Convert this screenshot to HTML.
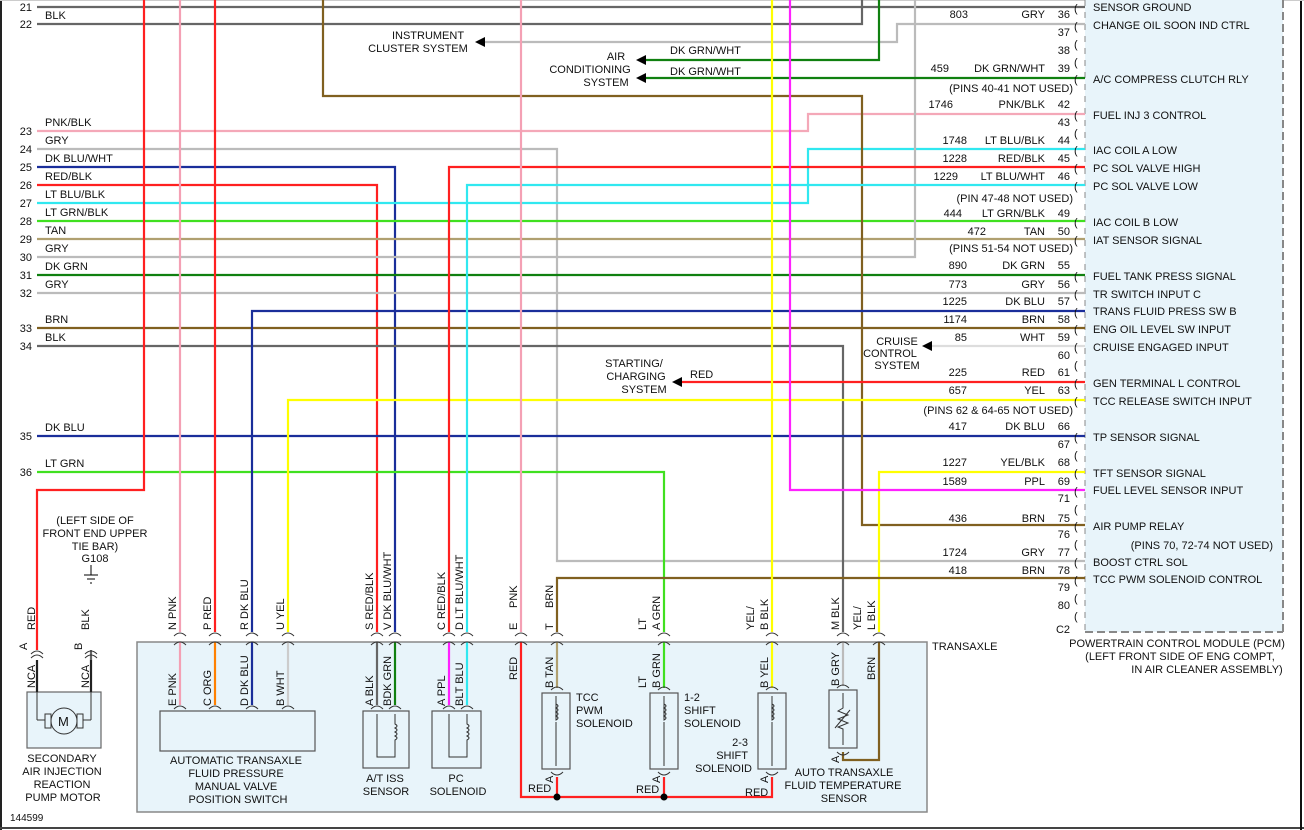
<!DOCTYPE html>
<html><head><meta charset="utf-8"><style>
html,body{margin:0;padding:0;background:#fff}
svg{display:block}
text{font-family:"Liberation Sans",sans-serif;font-size:11px;fill:#111}
</style></head><body>
<svg width="1304" height="830" viewBox="0 0 1304 830" xmlns="http://www.w3.org/2000/svg">
<rect x="0" y="0" width="1304" height="830" fill="#fff"/>
<line x1="1" y1="0" x2="1" y2="830" stroke="#222" stroke-width="2"/>
<line x1="0" y1="828" x2="1304" y2="828" stroke="#444" stroke-width="2"/>
<line x1="1301" y1="0" x2="1301" y2="830" stroke="#111" stroke-width="2"/>
<line x1="0" y1="0.5" x2="1304" y2="0.5" stroke="#ccc" stroke-width="1"/>
<!-- PCM box -->
<rect x="1085" y="0" width="198" height="632" fill="#e8f4fa"/>
<line x1="1283" y1="0" x2="1283" y2="632" stroke="#888" stroke-width="2" stroke-dasharray="8,4"/>
<line x1="1085" y1="632" x2="1283" y2="632" stroke="#888" stroke-width="2" stroke-dasharray="8,4"/>
<line x1="1085" y1="0" x2="1085" y2="632" stroke="#888" stroke-width="1" stroke-dasharray="6,6"/>
<!-- Transaxle box -->
<rect x="137" y="642" width="790" height="170" fill="#e8f4fa" stroke="#888" stroke-width="1.5"/>
<rect x="27" y="692" width="74" height="56" fill="#e8f4fa" stroke="#666" stroke-width="1.2"/>
<g fill="none" stroke-width="2.2">
<!-- horizontal left rows -->
<path d="M37 7H1085" stroke="#666"/>
<path d="M37 24H862V0" stroke="#666"/>
<path d="M37 131H808V114H1085" stroke="#f4a8b8"/>
<path d="M37 149H557V561H1085" stroke="#bbb"/>
<path d="M37 167H395V632" stroke="#1a2e9a"/>
<path d="M37 185H377V632" stroke="#ff2020"/>
<path d="M37 203H808V149H1085" stroke="#30e8f0"/>
<path d="M37 221H1085" stroke="#40e020"/>
<path d="M37 239H1085" stroke="#b0a070"/>
<path d="M37 257H915V0" stroke="#bbb"/>
<path d="M37 275H1085" stroke="#108010"/>
<path d="M37 293H1085" stroke="#bbb"/>
<path d="M37 328H1085" stroke="#806020"/>
<path d="M37 346H843V632" stroke="#666"/>
<path d="M37 436H1085" stroke="#1a2e9a"/>
<path d="M37 472H664V632" stroke="#40e020"/>
<!-- others -->
<path d="M478 42H897V24H1085" stroke="#bbb"/>
<path d="M640 60H879V0" stroke="#108010"/>
<path d="M640 78H1085" stroke="#108010"/>
<path d="M323 0V96H862V525H1085" stroke="#806020"/>
<path d="M252 632V311H1085" stroke="#1a2e9a"/>
<path d="M288 632V400H1085" stroke="#ffff00"/>
<path d="M449 632V167H1085" stroke="#ff2020"/>
<path d="M467 632V185H1085" stroke="#30e8f0"/>
<path d="M925 346H1085" stroke="#ddd"/>
<path d="M680 382H1085" stroke="#ff2020"/>
<path d="M879 632V472H1085" stroke="#ffff00"/>
<path d="M790 0V490H1085" stroke="#ff20ff"/>
<path d="M557 632V578H1085" stroke="#806020"/>
<path d="M144 0V490H37V650" stroke="#ff2020"/>
<path d="M180 0V632" stroke="#f4a0b4"/>
<path d="M215 0V632" stroke="#ff2020"/>
<path d="M521 0V632" stroke="#f4a0b4"/>
<path d="M772 0V632" stroke="#ffff00"/>
<path d="M91 660V650" stroke="#666"/>
<!-- inside transaxle -->
<path d="M180 642V705" stroke="#f4a0b4"/>
<path d="M215 642V705" stroke="#ff8000"/>
<path d="M252 642V705" stroke="#1a2e9a"/>
<path d="M288 642V705" stroke="#ccc"/>
<path d="M377 642V705" stroke="#666"/>
<path d="M395 642V705" stroke="#108010"/>
<path d="M449 642V705" stroke="#ff20ff"/>
<path d="M467 642V705" stroke="#30e8f0"/>
<path d="M557 642V688" stroke="#b0a070"/>
<path d="M664 642V688" stroke="#40e020"/>
<path d="M772 642V688" stroke="#ffff00"/>
<path d="M843 642V686" stroke="#bbb"/>
<path d="M879 642V760H843V752" stroke="#806020"/>
<path d="M521 642V797H772V777" stroke="#ff2020"/>
<path d="M557 777V797M664 777V797" stroke="#ff2020"/>
<path d="M37 660V692M91 660V692" stroke="#222"/>
</g>
<circle cx="557" cy="797" r="3.5" fill="#000"/>
<circle cx="664" cy="797" r="3.5" fill="#000"/>
<!-- arrows -->
<g fill="#000">
<path d="M475 42l10-5v10z"/><path d="M636 60l10-5v10z"/><path d="M636 78l10-5v10z"/>
<path d="M922 346l10-5v10z"/><path d="M672 382l10-5v10z"/>
</g>
<!-- connector glyphs -->
<g fill="none" stroke="#333" stroke-width="1">
<path d="M31 654q6-6 12 0M85 654q6-6 12 0M31 658q6-6 12 0M85 658q6-6 12 0"/>
<path d="M174 636q6-6 12 0M209 636q6-6 12 0M246 636q6-6 12 0M282 636q6-6 12 0M371 636q6-6 12 0M389 636q6-6 12 0M443 636q6-6 12 0M461 636q6-6 12 0M515 636q6-6 12 0M551 636q6-6 12 0M658 636q6-6 12 0M766 636q6-6 12 0M837 636q6-6 12 0M873 636q6-6 12 0"/>
<path d="M174 645q6-6 12 0M209 645q6-6 12 0M246 645q6-6 12 0M282 645q6-6 12 0M371 645q6-6 12 0M389 645q6-6 12 0M443 645q6-6 12 0M461 645q6-6 12 0M515 645q6-6 12 0M551 645q6-6 12 0M658 645q6-6 12 0M766 645q6-6 12 0M837 645q6-6 12 0M873 645q6-6 12 0"/>
<path d="M174 709q6-6 12 0M209 709q6-6 12 0M246 709q6-6 12 0M282 709q6-6 12 0M371 709q6-6 12 0M389 709q6-6 12 0M443 709q6-6 12 0M461 709q6-6 12 0M551 690q6-6 12 0M658 690q6-6 12 0M766 690q6-6 12 0M837 688q6-6 12 0"/>
<path d="M551 772q6 6 12 0M658 772q6 6 12 0M766 772q6 6 12 0M837 752q6 6 12 0"/>
</g>
<!-- component boxes -->
<g fill="#e8f4fa" stroke="#555" stroke-width="1.2">
<rect x="160" y="711" width="155" height="40"/>
<rect x="363" y="711" width="46" height="57"/>
<rect x="432" y="711" width="49" height="57"/>
<rect x="542" y="693" width="28" height="76"/>
<rect x="650" y="693" width="28" height="76"/>
<rect x="758" y="693" width="28" height="76"/>
<rect x="829" y="690" width="28" height="58"/>
</g>
<g fill="none" stroke="#333" stroke-width="1">
<path d="M377 714V757H395V740q4-2 0-4q4-2 0-4q4-2 0-4q4-2 0-4V714"/>
<path d="M449 714V757H467V740q4-2 0-4q4-2 0-4q4-2 0-4q4-2 0-4V714"/>
<path d="M556 696V720q4-2 0-4q4-2 0-4q4-2 0-4q4-2 0-4M556 720q4-2 0-4M556 722V766"/>
<path d="M664 696V720q4-2 0-4q4-2 0-4q4-2 0-4q4-2 0-4M664 722V766"/>
<path d="M772 696V720q4-2 0-4q4-2 0-4q4-2 0-4q4-2 0-4M772 722V766"/>
<path d="M843 693V708l-5 3 10 4-10 4 10 4-10 4 5 2V745M835 728l15-18"/>
<path d="M37 720H49M79 720H91M37 692V720M91 692V720"/>
</g>
<rect x="45" y="714" width="6" height="14" fill="#e8f4fa" stroke="#333"/><rect x="77" y="714" width="6" height="14" fill="#e8f4fa" stroke="#333"/>
<circle cx="64" cy="721" r="13" fill="#e8f4fa" stroke="#333"/>
<text x="58" y="726" style="font-size:13px">M</text>
<path d="M84 575h14M87 579h8M90 583h2M91 565v10" stroke="#000" fill="none"/>
<!-- left pin numbers and labels -->
<g text-anchor="end">
<text x="32" y="11">21</text><text x="32" y="28">22</text><text x="32" y="135">23</text><text x="32" y="153">24</text><text x="32" y="171">25</text><text x="32" y="189">26</text><text x="32" y="207">27</text><text x="32" y="225">28</text><text x="32" y="243">29</text><text x="32" y="261">30</text><text x="32" y="279">31</text><text x="32" y="297">32</text><text x="32" y="332">33</text><text x="32" y="350">34</text><text x="32" y="440">35</text><text x="32" y="476">36</text>
</g>
<g>
<text x="45" y="19">BLK</text><text x="45" y="126">PNK/BLK</text><text x="45" y="144">GRY</text><text x="45" y="162">DK BLU/WHT</text><text x="45" y="180">RED/BLK</text><text x="45" y="198">LT BLU/BLK</text><text x="45" y="216">LT GRN/BLK</text><text x="45" y="234">TAN</text><text x="45" y="252">GRY</text><text x="45" y="270">DK GRN</text><text x="45" y="288">GRY</text><text x="45" y="323">BRN</text><text x="45" y="341">BLK</text><text x="45" y="431">DK BLU</text><text x="45" y="467">LT GRN</text>
</g>
<!-- system labels -->
<g text-anchor="middle">
<text x="428" y="39">INSTRUMENT</text><text x="418" y="52">CLUSTER SYSTEM</text>
<text x="616" y="60">AIR</text><text x="590" y="73">CONDITIONING</text><text x="606" y="86">SYSTEM</text>
<text x="897" y="345">CRUISE</text><text x="890" y="357">CONTROL</text><text x="897" y="369">SYSTEM</text>
<text x="634" y="367">STARTING/</text><text x="636" y="380">CHARGING</text><text x="644" y="393">SYSTEM</text>
</g>
<text x="670" y="54">DK GRN/WHT</text><text x="670" y="75">DK GRN/WHT</text><text x="690" y="378">RED</text>
<!-- right rows -->
<g text-anchor="end">
<text x="968" y="18">803</text><text x="1045" y="18">GRY</text><text x="1070" y="18">36</text>
<text x="1070" y="36">37</text><text x="1070" y="54">38</text>
<text x="949" y="72">459</text><text x="1045" y="72">DK GRN/WHT</text><text x="1070" y="72">39</text>
<text x="1073" y="92">(PINS 40-41 NOT USED)</text>
<text x="953" y="108">1746</text><text x="1045" y="108">PNK/BLK</text><text x="1070" y="108">42</text>
<text x="1070" y="126">43</text>
<text x="967" y="144">1748</text><text x="1045" y="144">LT BLU/BLK</text><text x="1070" y="144">44</text>
<text x="967" y="162">1228</text><text x="1045" y="162">RED/BLK</text><text x="1070" y="162">45</text>
<text x="958" y="180">1229</text><text x="1045" y="180">LT BLU/WHT</text><text x="1070" y="180">46</text>
<text x="1073" y="202">(PIN 47-48 NOT USED)</text>
<text x="962" y="217">444</text><text x="1045" y="217">LT GRN/BLK</text><text x="1070" y="217">49</text>
<text x="986" y="235">472</text><text x="1045" y="235">TAN</text><text x="1070" y="235">50</text>
<text x="1073" y="252">(PINS 51-54 NOT USED)</text>
<text x="967" y="269">890</text><text x="1045" y="269">DK GRN</text><text x="1070" y="269">55</text>
<text x="967" y="288">773</text><text x="1045" y="288">GRY</text><text x="1070" y="288">56</text>
<text x="967" y="305">1225</text><text x="1045" y="305">DK BLU</text><text x="1070" y="305">57</text>
<text x="967" y="323">1174</text><text x="1045" y="323">BRN</text><text x="1070" y="323">58</text>
<text x="967" y="341">85</text><text x="1045" y="341">WHT</text><text x="1070" y="341">59</text>
<text x="1070" y="359">60</text>
<text x="967" y="376">225</text><text x="1045" y="376">RED</text><text x="1070" y="376">61</text>
<text x="967" y="394">657</text><text x="1045" y="394">YEL</text><text x="1070" y="394">63</text>
<text x="1073" y="414">(PINS 62 &amp; 64-65 NOT USED)</text>
<text x="967" y="430">417</text><text x="1045" y="430">DK BLU</text><text x="1070" y="430">66</text>
<text x="1070" y="448">67</text>
<text x="967" y="466">1227</text><text x="1045" y="466">YEL/BLK</text><text x="1070" y="466">68</text>
<text x="967" y="485">1589</text><text x="1045" y="485">PPL</text><text x="1070" y="485">69</text>
<text x="1070" y="502">71</text>
<text x="967" y="522">436</text><text x="1045" y="522">BRN</text><text x="1070" y="522">75</text>
<text x="1070" y="538">76</text>
<text x="1273" y="549">(PINS 70, 72-74 NOT USED)</text>
<text x="967" y="556">1724</text><text x="1045" y="556">GRY</text><text x="1070" y="556">77</text>
<text x="967" y="574">418</text><text x="1045" y="574">BRN</text><text x="1070" y="574">78</text>
<text x="1070" y="591">79</text><text x="1070" y="609">80</text><text x="1070" y="633">C2</text>
</g>
<g style="font-size:13px" fill="#333"><text x="1074" y="12">(</text><text x="1074" y="30">(</text><text x="1074" y="48">(</text><text x="1074" y="66">(</text><text x="1074" y="83">(</text><text x="1074" y="119">(</text><text x="1074" y="137">(</text><text x="1074" y="154">(</text><text x="1074" y="172">(</text><text x="1074" y="190">(</text><text x="1074" y="226">(</text><text x="1074" y="244">(</text><text x="1074" y="280">(</text><text x="1074" y="298">(</text><text x="1074" y="316">(</text><text x="1074" y="333">(</text><text x="1074" y="351">(</text><text x="1074" y="369">(</text><text x="1074" y="387">(</text><text x="1074" y="405">(</text><text x="1074" y="441">(</text><text x="1074" y="459">(</text><text x="1074" y="477">(</text><text x="1074" y="495">(</text><text x="1074" y="513">(</text><text x="1074" y="530">(</text><text x="1074" y="548">(</text><text x="1074" y="566">(</text><text x="1074" y="584">(</text><text x="1074" y="602">(</text><text x="1074" y="620">(</text></g>
<g>
<text x="1093" y="11">SENSOR GROUND</text><text x="1093" y="29">CHANGE OIL SOON IND CTRL</text><text x="1093" y="83">A/C COMPRESS CLUTCH RLY</text><text x="1093" y="119">FUEL INJ 3 CONTROL</text><text x="1093" y="154">IAC COIL A LOW</text><text x="1093" y="172">PC SOL VALVE HIGH</text><text x="1093" y="190">PC SOL VALVE LOW</text><text x="1093" y="226">IAC COIL B LOW</text><text x="1093" y="244">IAT SENSOR SIGNAL</text><text x="1093" y="280">FUEL TANK PRESS SIGNAL</text><text x="1093" y="298">TR SWITCH INPUT C</text><text x="1093" y="315">TRANS FLUID PRESS SW B</text><text x="1093" y="333">ENG OIL LEVEL SW INPUT</text><text x="1093" y="351">CRUISE ENGAGED INPUT</text><text x="1093" y="387">GEN TERMINAL L CONTROL</text><text x="1093" y="405">TCC RELEASE SWITCH INPUT</text><text x="1093" y="441">TP SENSOR SIGNAL</text><text x="1093" y="477">TFT SENSOR SIGNAL</text><text x="1093" y="494">FUEL LEVEL SENSOR INPUT</text><text x="1093" y="530">AIR PUMP RELAY</text><text x="1093" y="566">BOOST CTRL SOL</text><text x="1093" y="583">TCC PWM SOLENOID CONTROL</text>
</g>
<g text-anchor="middle">
<text x="1177" y="647">POWERTRAIN CONTROL MODULE (PCM)</text><text x="1180" y="660">(LEFT FRONT SIDE OF ENG COMPT,</text><text x="1207" y="673">IN AIR CLEANER ASSEMBLY)</text>
<text x="95" y="524">(LEFT SIDE OF</text><text x="95" y="537">FRONT END UPPER</text><text x="95" y="550">TIE BAR)</text><text x="95" y="562">G108</text>
<text x="62" y="762">SECONDARY</text><text x="62" y="775">AIR INJECTION</text><text x="62" y="788">REACTION</text><text x="63" y="801">PUMP MOTOR</text>
<text x="236" y="764">AUTOMATIC TRANSAXLE</text><text x="236" y="777">FLUID PRESSURE</text><text x="236" y="790">MANUAL VALVE</text><text x="238" y="803">POSITION SWITCH</text>
<text x="385" y="782">A/T ISS</text><text x="386" y="795">SENSOR</text>
<text x="456" y="782">PC</text><text x="458" y="795">SOLENOID</text>
<text x="844" y="776">AUTO TRANSAXLE</text><text x="843" y="789">FLUID TEMPERATURE</text><text x="844" y="802">SENSOR</text>
</g>
<text x="932" y="650">TRANSAXLE</text>
<text x="576" y="701">TCC</text><text x="576" y="714">PWM</text><text x="576" y="727">SOLENOID</text>
<text x="684" y="701">1-2</text><text x="684" y="714">SHIFT</text><text x="684" y="727">SOLENOID</text>
<g text-anchor="end"><text x="748" y="746">2-3</text><text x="748" y="759">SHIFT</text><text x="752" y="772">SOLENOID</text></g>
<text x="528" y="792">RED</text><text x="636" y="793">RED</text><text x="745" y="796">RED</text>
<text x="10" y="821" style="font-size:10px">144599</text>
<!-- vertical labels -->
<g>
<text transform="translate(35,630) rotate(-90)">RED</text>
<text transform="translate(89,630) rotate(-90)">BLK</text>
<text transform="translate(27,650) rotate(-90)">A</text>
<text transform="translate(82,650) rotate(-90)">B</text>
<text transform="translate(35,688) rotate(-90)">NCA</text>
<text transform="translate(89,688) rotate(-90)">NCA</text>
<text transform="translate(176,630) rotate(-90)">N  PNK</text>
<text transform="translate(211,630) rotate(-90)">P  RED</text>
<text transform="translate(248,630) rotate(-90)">R  DK BLU</text>
<text transform="translate(284,630) rotate(-90)">U  YEL</text>
<text transform="translate(373,630) rotate(-90)">S  RED/BLK</text>
<text transform="translate(391,630) rotate(-90)">V  DK BLU/WHT</text>
<text transform="translate(445,630) rotate(-90)">C  RED/BLK</text>
<text transform="translate(463,630) rotate(-90)">D  LT BLU/WHT</text>
<text transform="translate(517,630) rotate(-90)">E</text>
<text transform="translate(517,608) rotate(-90)">PNK</text>
<text transform="translate(553,630) rotate(-90)">T</text>
<text transform="translate(553,608) rotate(-90)">BRN</text>
<text transform="translate(646,630) rotate(-90)">LT</text>
<text transform="translate(660,630) rotate(-90)">A GRN</text>
<text transform="translate(768,630) rotate(-90)">B  BLK</text>
<text transform="translate(754,630) rotate(-90)">YEL/</text>
<text transform="translate(839,630) rotate(-90)">M</text>
<text transform="translate(839,618) rotate(-90)">BLK</text>
<text transform="translate(861,630) rotate(-90)">YEL/</text>
<text transform="translate(875,630) rotate(-90)">L  BLK</text>
<text transform="translate(176,706) rotate(-90)">E PNK</text>
<text transform="translate(211,706) rotate(-90)">C ORG</text>
<text transform="translate(248,706) rotate(-90)">D DK BLU</text>
<text transform="translate(284,706) rotate(-90)">B WHT</text>
<text transform="translate(373,706) rotate(-90)">A BLK</text>
<text transform="translate(391,706) rotate(-90)">BDK GRN</text>
<text transform="translate(445,706) rotate(-90)">A PPL</text>
<text transform="translate(463,706) rotate(-90)">BLT BLU</text>
<text transform="translate(517,680) rotate(-90)">RED</text>
<text transform="translate(553,688) rotate(-90)">B  TAN</text>
<text transform="translate(646,688) rotate(-90)">LT</text>
<text transform="translate(660,688) rotate(-90)">B  GRN</text>
<text transform="translate(768,688) rotate(-90)">B  YEL</text>
<text transform="translate(839,686) rotate(-90)">B GRY</text>
<text transform="translate(875,680) rotate(-90)">BRN</text>
<text transform="translate(553,783) rotate(-90)">A</text>
<text transform="translate(660,783) rotate(-90)">A</text>
<text transform="translate(768,783) rotate(-90)">A</text>
<text transform="translate(839,763) rotate(-90)">A</text>
</g>
</svg>
</body></html>
